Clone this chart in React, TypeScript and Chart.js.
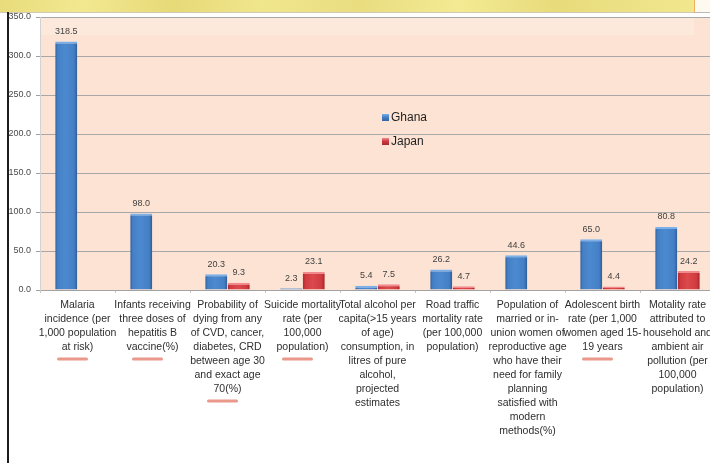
import { useEffect, useRef } from "react";
import { Chart, registerables } from "chart.js";

Chart.register(...registerables);

// Indicator names, already broken into the lines shown under each group
const categories: string[][] = [
  ["Malaria", "incidence (per", "1,000 population", "at risk)"],
  ["Infants receiving", "three doses of", "hepatitis B", "vaccine(%)"],
  ["Probability of", "dying from any", "of CVD, cancer,", "diabetes, CRD", "between age 30", "and exact age", "70(%)"],
  ["Suicide mortality", "rate (per", "100,000", "population)"],
  ["Total alcohol per", "capita(>15 years", "of age)", "consumption, in", "litres of pure", "alcohol,", "projected", "estimates"],
  ["Road traffic", "mortality rate", "(per 100,000", "population)"],
  ["Population of", "married or in-", "union women of", "reproductive age", "who have their", "need for family", "planning", "satisfied with", "modern", "methods(%)"],
  ["Adolescent birth", "rate (per 1,000", "women aged 15-", "19 years"],
  ["Motality rate", "attributed to", "household and", "ambient air", "pollution (per", "100,000", "population)"],
];

const seriesNames = ["Ghana", "Japan"];
const ghanaValues: (number | null)[] = [318.5, 98.0, 20.3, 2.3, 5.4, 26.2, 44.6, 65.0, 80.8];
const japanValues: (number | null)[] = [null, null, 9.3, 23.1, 7.5, 4.7, null, 4.4, 24.2];

const yMin = 0;
const yMax = 350;
const yStep = 50;

// Indicators marked with a hand-drawn underline
const underlinedCategories = [0, 1, 2, 3, 7];

const CAT_PCT = 0.6;
const BAR_PCT = 0.98;
const FONT = "'Liberation Sans Narrow', 'Liberation Sans', Arial, sans-serif";

type Palette = { dark: string; mid: string; light: string; edge: string; top: string };
const palettes: Palette[] = [
  { dark: "#2d5c97", mid: "#4580c6", light: "#4c89cf", edge: "#30609c", top: "#79b0ea" },
  { dark: "#9f272b", mid: "#d13a3f", light: "#db4a4e", edge: "#a82b2f", top: "#f08a8d" },
];

function barFill(ctx: any, p: Palette) {
  const chart = ctx.chart;
  const xs = chart.scales?.x;
  if (!xs || !chart.chartArea || ctx.type !== "data") return p.mid;
  const cat = Math.abs(xs.getPixelForValue(1) - xs.getPixelForValue(0));
  const slot = (cat * CAT_PCT) / 2;
  const w = slot * BAR_PCT;
  const c = xs.getPixelForValue(ctx.dataIndex) + (ctx.datasetIndex === 0 ? -slot / 2 : slot / 2);
  const g = chart.ctx.createLinearGradient(c - w / 2, 0, c + w / 2, 0);
  g.addColorStop(0, p.edge);
  g.addColorStop(0.12, p.mid);
  g.addColorStop(0.45, p.light);
  g.addColorStop(0.85, p.mid);
  g.addColorStop(1, p.dark);
  return g;
}

const plotBackground = {
  id: "plotBackground",
  beforeDraw(chart: any) {
    const { ctx, chartArea: a } = chart;
    ctx.save();
    ctx.fillStyle = "#fde3d3";
    ctx.fillRect(a.left, a.top, a.right - a.left, a.bottom - a.top);
    ctx.fillStyle = "rgba(255,255,255,0.22)";
    ctx.fillRect(a.left - 2, a.top, 656, 18);
    ctx.restore();
  },
};

const valueLabels = {
  id: "valueLabels",
  afterDatasetsDraw(chart: any) {
    const { ctx } = chart;
    ctx.save();
    ctx.font = `9px ${FONT}`;
    ctx.fillStyle = "#3f3f3f";
    ctx.textAlign = "center";
    ctx.textBaseline = "middle";
    chart.data.datasets.forEach((ds: any, di: number) => {
      const meta = chart.getDatasetMeta(di);
      meta.data.forEach((el: any, i: number) => {
        const v = ds.data[i];
        if (v == null) return;
        ctx.fillText(Number(v).toFixed(1), el.x, el.y - 10);
      });
    });
    ctx.restore();
  },
};

const innerLegend = {
  id: "innerLegend",
  afterDraw(chart: any) {
    const { ctx, chartArea: a } = chart;
    ctx.save();
    ctx.font = `12px ${FONT}`;
    ctx.textBaseline = "middle";
    ctx.textAlign = "left";
    chart.data.datasets.forEach((ds: any, i: number) => {
      const p = palettes[i];
      const x = a.left + 342;
      const y = a.top + 101 + i * 24;
      const g = ctx.createLinearGradient(x, y - 4, x, y + 4);
      g.addColorStop(0, p.top);
      g.addColorStop(0.4, p.mid);
      g.addColorStop(1, p.dark);
      ctx.fillStyle = g;
      ctx.fillRect(x, y - 4, 7, 7);
      ctx.fillStyle = "#1e1e1e";
      ctx.fillText(ds.label, x + 9, y);
    });
    ctx.restore();
  },
};

const underlines = {
  id: "underlines",
  afterDraw(chart: any) {
    const { ctx } = chart;
    const xs = chart.scales.x;
    ctx.save();
    ctx.strokeStyle = "#e9988a";
    ctx.lineWidth = 3;
    ctx.lineCap = "round";
    underlinedCategories.forEach((i) => {
      const lines = categories[i].length;
      const cx = xs.getPixelForValue(i) - 5;
      const y = xs.top + 15 + (lines - 1) * 14 + 12;
      ctx.beginPath();
      ctx.moveTo(cx - 14, y);
      ctx.lineTo(cx + 14, y);
      ctx.stroke();
    });
    ctx.restore();
  },
};

export default function App() {
  const canvasRef = useRef<HTMLCanvasElement | null>(null);

  useEffect(() => {
    if (!canvasRef.current) return;
    const chart = new Chart(canvasRef.current, {
      type: "bar",
      data: {
        labels: categories,
        datasets: [
          {
            label: seriesNames[0],
            data: ghanaValues,
            backgroundColor: (c: any) => barFill(c, palettes[0]),
            borderColor: palettes[0].top,
            borderWidth: { top: 2, left: 0, right: 0, bottom: 0 },
            borderSkipped: false,
          },
          {
            label: seriesNames[1],
            data: japanValues,
            backgroundColor: (c: any) => barFill(c, palettes[1]),
            borderColor: palettes[1].top,
            borderWidth: { top: 2, left: 0, right: 0, bottom: 0 },
            borderSkipped: false,
          },
        ] as any,
      },
      options: {
        responsive: false,
        animation: false,
        devicePixelRatio: 1,
        categoryPercentage: CAT_PCT,
        barPercentage: BAR_PCT,
        layout: { padding: { left: 0, top: 17, right: 5, bottom: 0 } },
        plugins: {
          legend: { display: false },
          tooltip: { enabled: false },
        },
        scales: {
          x: {
            offset: true,
            afterFit: (s: any) => {
              s.height = 173;
            },
            grid: {
              drawOnChartArea: false,
              drawTicks: true,
              tickLength: 3,
              color: "#c4c4c4",
            },
            border: { color: "#a2a2a2", width: 1 },
            ticks: {
              autoSkip: false,
              maxRotation: 0,
              minRotation: 0,
              padding: 5,
              color: "#2e2e2e",
              font: { family: FONT, size: 10.5, lineHeight: "14px" as any },
            },
          },
          y: {
            min: yMin,
            max: yMax,
            afterFit: (s: any) => {
              s.width = 40;
            },
            grid: {
              color: "#a8a8a8",
              tickColor: "#a0a0a0",
              tickLength: 4,
            },
            border: { color: "#d2d2d2", width: 1 },
            ticks: {
              stepSize: yStep,
              padding: 5,
              color: "#4a4a4a",
              font: { family: FONT, size: 9 },
              callback: (v: any) => Number(v).toFixed(1),
            },
          },
        },
      },
      plugins: [plotBackground, valueLabels, innerLegend, underlines],
    });
    return () => chart.destroy();
  }, []);

  return (
    <div
      style={{
        position: "fixed",
        left: 0,
        top: 0,
        width: 710,
        height: 463,
        overflow: "hidden",
        background: "#ffffff",
      }}
    >
      <canvas ref={canvasRef} width={720} height={463} style={{ position: "absolute", left: 0, top: 0 }} />
      <div
        style={{
          position: "absolute",
          left: 0,
          top: 0,
          width: 694,
          height: 12,
          background:
            "linear-gradient(90deg, #e8dc7c 0%, #f2e890 12%, #e6d978 25%, #f0e68c 38%, #e9dd80 52%, #f3ea93 66%, #e7db7b 80%, #f1e78e 100%)",
          borderBottom: "1px solid #cfcab0",
        }}
      />
      <div
        style={{
          position: "absolute",
          left: 694,
          top: 0,
          width: 16,
          height: 12,
          background: "#fffaf0",
          borderLeft: "1px solid #f0b060",
          borderBottom: "1px solid #b8b8b8",
        }}
      />
      <div
        style={{
          position: "absolute",
          left: 7,
          top: 12,
          width: 2,
          height: 451,
          background: "#1c1c1c",
        }}
      />
    </div>
  );
}
